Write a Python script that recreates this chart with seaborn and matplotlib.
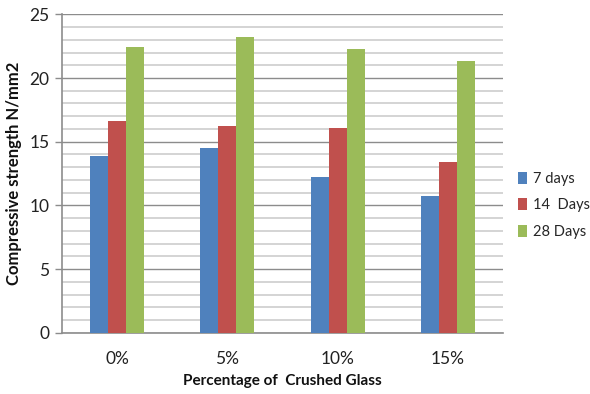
import matplotlib
matplotlib.use("Agg")
import matplotlib.pyplot as plt
from matplotlib.ticker import MultipleLocator
import seaborn as sns
import pandas as pd

# Compressive strength (N/mm2) by crushed glass replacement and curing age
percentages = ["0%", "5%", "10%", "15%"]
days_7 = [13.9, 14.5, 12.2, 10.7]
days_14 = [16.6, 16.2, 16.1, 13.4]
days_28 = [22.4, 23.2, 22.3, 21.3]
series_names = ["7 days", "14  Days", "28 Days"]
colors = ["#4F81BD", "#C0504D", "#9BBB59"]

rows = []
for name, vals in zip(series_names, [days_7, days_14, days_28]):
    for p, v in zip(percentages, vals):
        rows.append({"Percentage": p, "Strength": v, "Age": name})
df = pd.DataFrame(rows)

sns.set_theme(style="white")
plt.rcParams["font.family"] = ["Lato", "DejaVu Sans"]

fig = plt.figure(figsize=(5.9, 3.94), dpi=100)
ax = fig.add_axes([0.105, 0.1553, 0.7475, 0.8084])

sns.barplot(data=df, x="Percentage", y="Strength", hue="Age",
            order=percentages, hue_order=series_names, palette=colors,
            width=0.49, gap=0, saturation=1, errorbar=None, ax=ax,
            edgecolor="none", linewidth=0, zorder=3)

ax.set_xlim(-0.5, 3.5)
ax.set_ylim(0, 25)
ax.yaxis.set_major_locator(MultipleLocator(5))
ax.yaxis.set_minor_locator(MultipleLocator(1))
ax.grid(True, which="major", axis="y", color="#8c8c8c", linewidth=1.0, zorder=1)
ax.grid(True, which="minor", axis="y", color="#d4d4d4", linewidth=1.4, zorder=0)
ax.set_axisbelow(True)

for side in ["top", "right"]:
    ax.spines[side].set_visible(False)
for side in ["left", "bottom"]:
    ax.spines[side].set_color("#8c8c8c")
    ax.spines[side].set_linewidth(1.2)

ax.tick_params(axis="y", which="major", left=True, length=5, width=1,
               color="#8c8c8c", direction="out", labelsize=12.5,
               labelcolor="#222222", pad=4)
ax.tick_params(axis="y", which="minor", left=False)
ax.tick_params(axis="x", bottom=False, labelsize=12.5, labelcolor="#222222", pad=7)

ax.set_xlabel("Percentage of  Crushed Glass", fontsize=11, fontweight="bold",
              color="#111111")
ax.set_ylabel("Compressive strength N/mm2", fontsize=12, fontweight="bold",
              color="#111111")
ax.xaxis.set_label_coords(0.5, -0.128)
ax.yaxis.set_label_coords(-0.09, 0.5)

ax.legend(loc="center left", bbox_to_anchor=(1.02, 0.40), frameon=False,
          fontsize=10.5, handlelength=0.65, handleheight=0.9, handletextpad=0.4,
          labelspacing=0.85, borderaxespad=0)

fig.savefig("out.png", dpi=100)
